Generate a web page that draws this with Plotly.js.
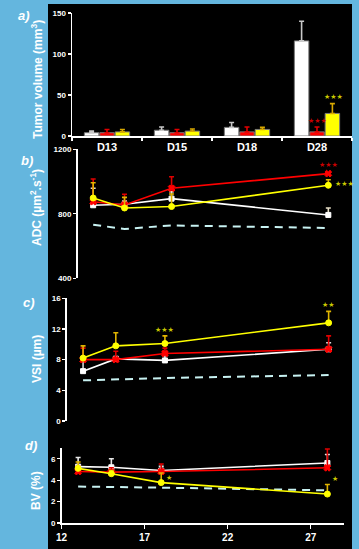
<!DOCTYPE html>
<html>
<head>
<meta charset="utf-8">
<script src="https://cdn.plot.ly/plotly-3.0.1.min.js"></script>
<style>html,body{margin:0;padding:0;background:#64b6de;}#chart{width:359px;height:549px;}</style>
</head>
<body>
<div id="chart"></div>
<script>
// ---------- data ----------
const volCats = ['D13', 'D15', 'D18', 'D28'];
const volControl = [4, 7, 10.5, 116];
const volControlErr = [2, 4, 6, 24];
const volRed = [4, 4, 5, 5];
const volRedErr = [4, 4, 6, 6];
const volYellow = [5, 6, 8, 27.5];
const volYellowErr = [3, 2.5, 2.5, 12];
const volRedSig = ['', '', '', '★★★'];
const volYellowSig = ['', '', '', '★★★'];

const days = [13, 15, 18, 28];
const adcWhite = [853, 859, 894, 793];
const adcWhiteErr = [105, 20, 43, 43];
const adcRed = [875, 855, 958, 1049];
const adcRedErr = [141, 66, 72, 8];
const adcYellow = [898, 836, 845, 977];
const adcYellowErr = [95, 66, 78, 34];
const adcRef = [732, 706, 728, 712];
const adcRedSig = ['', '', '', '★★★'];
const adcYellowSig = ['', '', '', '★★★'];

const vsiWhite = [6.5, 8.1, 7.9, 9.35];
const vsiWhiteErr = [1.4, 0.3, 0.6, 0.85];
const vsiRed = [8.0, 8.0, 8.8, 9.35];
const vsiRedErr = [1.5, 1.1, 0.7, 1.75];
const vsiYellow = [8.2, 9.8, 10.1, 12.8];
const vsiYellowErr = [1.6, 1.7, 1.0, 1.5];
const vsiRef = [5.3, 5.4, 5.6, 6.0];
const vsiYellowSig = ['', '', '★★★', '★★'];

const bvWhite = [5.26, 5.2, 4.9, 5.6];
const bvWhiteErr = [0.85, 0.8, 0.4, 0.8];
const bvRed = [4.8, 4.75, 4.8, 5.15];
const bvRedErr = [0.5, 0.4, 0.7, 1.75];
const bvYellow = [5.1, 4.6, 3.77, 2.7];
const bvYellowErr = [0.6, 0.3, 0.9, 0.9];
const bvRef = [3.4, 3.38, 3.3, 3.05];
const bvYellowSig = ['', '', '★', '★'];

// ---------- styles ----------
const W = 359, H = 549;
const px = p => p / W;
const py = p => 1 - p / H;
const FONT = 'Liberation Sans, Arial, sans-serif';
const WHITE = '#ffffff', RED = '#ff0000', YEL = '#ffff00';
const REF = '#c8f2f2';

function errUp(arr, color) {
  return {type: 'data', array: arr, arrayminus: arr.map(() => 0), symmetric: false,
          color: color, thickness: 1.6, width: 2.5};
}
function bar(y, err, color, errColor, name) {
  return {type: 'bar', x: volCats, y: y, name: name, xaxis: 'x', yaxis: 'y',
          marker: {color: color, line: {color: '#7a7a7a', width: 1}},
          error_y: errUp(err, errColor), hoverinfo: 'none'};
}
function line(ax, y, err, color, errColor, symbol, msize) {
  return {type: 'scatter', mode: 'lines+markers', x: days, y: y,
          xaxis: 'x' + ax, yaxis: 'y' + ax,
          line: {color: color, width: 1.6},
          marker: {color: color, symbol: symbol, size: msize, line: {color: color, width: 1}},
          error_y: errUp(err, errColor), hoverinfo: 'none'};
}
function ref(ax, y) {
  return {type: 'scatter', mode: 'lines', x: days, y: y, xaxis: 'x' + ax, yaxis: 'y' + ax,
          line: {color: REF, width: 2, dash: '8px,6px'}, hoverinfo: 'none'};
}

const traces = [
  bar(volControl, volControlErr, WHITE, '#c8c8c8', 'control'),
  bar(volRed, volRedErr, RED, '#e00000', 'red'),
  bar(volYellow, volYellowErr, YEL, '#d8a800', 'yellow'),

  ref(2, adcRef),
  line(2, adcWhite, adcWhiteErr, WHITE, '#e8e0c8', 'square', 5),
  line(2, adcRed, adcRedErr, RED, '#e00000', 'x', 6),
  line(2, adcYellow, adcYellowErr, YEL, '#e0b400', 'circle', 6),

  ref(3, vsiRef),
  line(3, vsiWhite, vsiWhiteErr, WHITE, '#d8d8d8', 'square', 5),
  line(3, vsiRed, vsiRedErr, RED, '#e00000', 'x', 6),
  line(3, vsiYellow, vsiYellowErr, YEL, '#e0b400', 'circle', 6),

  ref(4, bvRef),
  line(4, bvWhite, bvWhiteErr, WHITE, '#e8e8e8', 'square', 5),
  line(4, bvRed, bvRedErr, RED, '#e00000', 'x', 6),
  line(4, bvYellow, bvYellowErr, YEL, '#e0b400', 'circle', 6)
];

// ---------- annotations ----------
const ann = [];
const starRed = '#c80000', starYel = '#c8c800';
function stars(xref, yref, xs, vals, errs, sig, color, mode, xshift, yshift) {
  sig.forEach((s, i) => {
    if (!s) return;
    const base = mode === 'above' ? vals[i] + errs[i] : vals[i];
    ann.push({xref: xref, yref: yref, x: xs[i], y: base, text: s, showarrow: false,
      xanchor: mode === 'right' ? 'left' : 'center', yanchor: 'middle',
      xshift: xshift, yshift: yshift,
      font: {family: 'DejaVu Sans', size: 7, color: color}});
  });
}
stars('x', 'y', volCats, volRed, volRedErr, volRedSig, starRed, 'above', 0, 6);
stars('x', 'y', volCats, volYellow, volYellowErr, volYellowSig, starYel, 'above', 16, 7);
stars('x2', 'y2', days, adcRed, adcRedErr, adcRedSig, starRed, 'above', 0, 7);
stars('x2', 'y2', days, adcYellow, adcYellowErr, adcYellowSig, starYel, 'right', 5, 1);
stars('x3', 'y3', days, vsiYellow, vsiYellowErr, vsiYellowSig, starYel, 'above', 0, 6);
stars('x4', 'y4', days, [bvYellow[0], bvYellow[1], bvYellow[2], bvYellow[3] + bvYellowErr[3]],
      [0, 0, 0, 0], bvYellowSig, starYel, 'right', 3, 5);

const titleFont = {family: FONT, size: 12, color: WHITE, weight: 'bold'};
const panelFont = {family: FONT, size: 13, color: WHITE, weight: 'bold', style: 'italic'};
function ytitle(text, ycenter, x) {
  ann.push({xref: 'paper', yref: 'paper', x: px(x), y: py(ycenter), text: text, textangle: -90,
            showarrow: false, xanchor: 'center', yanchor: 'middle', font: titleFont});
}
function plabel(text, x, y) {
  ann.push({xref: 'paper', yref: 'paper', x: px(x), y: py(y), text: text, showarrow: false,
            xanchor: 'center', yanchor: 'middle', font: panelFont});
}
ytitle('Tumor volume (mm<sup>3</sup>)', 80, 37);
ytitle('ADC (µm<sup>2</sup>.s<sup>-1</sup>)', 208, 36);
ytitle('VSI (µm)', 359, 37);
ytitle('BV (%)', 491, 36);
plabel('a)', 24, 16);
plabel('b)', 27, 160);
plabel('c)', 29, 303);
plabel('d)', 31, 445);

// ---------- axes ----------
const tickFont = {family: FONT, size: 8, color: WHITE, weight: 'bold'};
function yax(anchor, dom, range, dtick) {
  return {anchor: anchor, domain: dom, range: range, dtick: dtick, tick0: range[0],
          showgrid: false, zeroline: false, showline: true, linecolor: WHITE, linewidth: 1.5,
          ticks: 'outside', ticklen: 3, tickwidth: 1.2, tickcolor: WHITE, tickfont: tickFont,
          fixedrange: true};
}
function xhidden(anchor, dom) {
  return {anchor: anchor, domain: dom, range: [12, 29], visible: false, fixedrange: true};
}

const layout = {
  width: W, height: H,
  margin: {l: 0, r: 0, t: 0, b: 0, pad: 0},
  paper_bgcolor: '#64b6de', plot_bgcolor: 'rgba(0,0,0,0)',
  showlegend: false,
  barmode: 'group', bargap: 0.34, bargroupgap: 0.06,
  shapes: [{type: 'rect', xref: 'paper', yref: 'paper', x0: px(48), x1: px(352), y0: 0, y1: py(4),
            fillcolor: '#000000', line: {width: 0}, layer: 'below'}],
  xaxis: {anchor: 'y', domain: [px(72), px(352)], type: 'category',
          showgrid: false, zeroline: false, showline: true, linecolor: WHITE, linewidth: 1.5,
          ticks: 'outside', tickson: 'boundaries', ticklen: 3, tickcolor: WHITE, tickwidth: 1.2,
          tickfont: {family: FONT, size: 11, color: WHITE, weight: 'bold'}, fixedrange: true},
  yaxis: yax('x', [py(136), py(13)], [0, 150], 50),
  xaxis2: xhidden('y2', [px(77.5), px(344)]),
  yaxis2: yax('x2', [py(278.3), py(149.3)], [400, 1200], 400),
  xaxis3: xhidden('y3', [px(66.7), px(345)]),
  yaxis3: yax('x3', [py(421), py(298.3)], [0, 16], 4),
  xaxis4: {anchor: 'y4', domain: [px(61.5), px(344)], range: [12, 29], tick0: 12, dtick: 5,
           showgrid: false, zeroline: false, showline: true, linecolor: WHITE, linewidth: 1.5,
           ticks: 'outside', ticklen: 4, tickcolor: WHITE, tickwidth: 1.2,
           tickfont: {family: FONT, size: 10, color: WHITE, weight: 'bold'}, fixedrange: true},
  yaxis4: yax('x4', [py(523), py(448)], [0, 7], 2),
  annotations: ann
};

Plotly.newPlot('chart', traces, layout, {displayModeBar: false, staticPlot: true});
</script>
</body>
</html>
